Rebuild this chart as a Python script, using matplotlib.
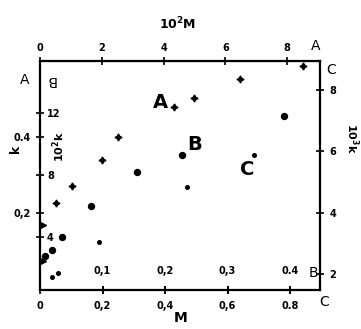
import matplotlib
matplotlib.use('Agg')
import matplotlib.pyplot as plt
import numpy as np

# Series A: 10^2 M (top axis) vs k (left, outer scale)
a_m100 = [0.52, 1.04, 2.01, 2.52, 4.34, 4.98, 6.47, 8.51]
a_k = [0.226, 0.270, 0.338, 0.400, 0.478, 0.501, 0.551, 0.584]

# Series B: M (bottom, inner scale) vs 10^2 k (left, inner scale)
b_m = [0.008, 0.019, 0.035, 0.082, 0.155, 0.227, 0.390]
b_k100 = [2.77, 3.16, 3.99, 5.98, 8.16, 9.31, 11.8]

# Series C: M (bottom, outer scale) vs 10^3 k (right axis)
c_m = [0.038, 0.058, 0.189, 0.470, 0.685]
c_k1000 = [1.90, 2.03, 3.04, 4.82, 5.86]

# little arrow marks on the left axis (k)
edge_k = [0.075, 0.169]

# tick labels
bot_ticks = [0, 0.2, 0.4, 0.6, 0.8]
bot_labels = ['0', '0,2', '0,4', '0,6', '0.8']
inner_ticks = [0.1, 0.2, 0.3, 0.4]
inner_labels = ['0,1', '0,2', '0,3', '0.4']
top_ticks = [0, 2, 4, 6, 8]
left_ticks = [0.2, 0.4]
left_labels = ['0,2', '0.4']
linner_ticks = [4, 8, 12]
right_ticks = [2, 4, 6, 8]

# scale conversions to the base axes (M, k)
top_f = (lambda m: m * 10.11, lambda t: t / 10.11)
inner_f = (lambda m: m / 2, lambda b: b * 2)
linner_f = (lambda k: (k + 0.024) / 0.0405, lambda v: v * 0.0405 - 0.024)
right_f = (lambda k: (k + 0.1186) / 0.0801, lambda r: r * 0.0801 - 0.1186)

W, H = 361, 329
fig = plt.figure(figsize=(W / 100, H / 100), dpi=100)
ax = fig.add_axes([40 / W, 1 - 290 / H, 280 / W, 229 / H])
ax.set_xlim(0, 0.896)
ax.set_ylim(0.0, 0.597)

for s in ax.spines.values():
    s.set_linewidth(1.6)

tick_kw = dict(direction='inout', length=6, width=1.2, labelsize=7)
ax.tick_params(axis='both', **tick_kw)
ax.set_xticks(bot_ticks)
ax.set_xticklabels(bot_labels, fontweight='bold')
ax.set_yticks(left_ticks)
ax.set_yticklabels(left_labels, fontweight='bold')
ax.tick_params(axis='x', pad=5)
ax.tick_params(axis='y', pad=4)

# top axis: 10^2 M
sec_top = ax.secondary_xaxis('top', functions=top_f)
sec_top.set_xticks(top_ticks)
sec_top.set_xticklabels([str(t) for t in top_ticks], fontweight='bold')
sec_top.tick_params(axis='x', pad=3, **tick_kw)

# inner bottom scale (0.1 .. 0.4)
sec_in = ax.secondary_xaxis(0.0, functions=inner_f)
sec_in.set_alignment('top')
sec_in.set_xticks(inner_ticks)
sec_in.set_xticklabels(inner_labels, fontweight='bold')
sec_in.tick_params(axis='x', pad=7, **tick_kw)
for s in sec_in.spines.values():
    s.set_visible(False)

# inner left scale: 10^2 k
sec_lin = ax.secondary_yaxis(0.0, functions=linner_f)
sec_lin.set_alignment('right')
sec_lin.set_yticks(linner_ticks)
sec_lin.set_yticklabels([str(t) for t in linner_ticks], fontweight='bold')
sec_lin.tick_params(axis='y', pad=2, **tick_kw)
for s in sec_lin.spines.values():
    s.set_visible(False)

# right axis: 10^3 k
sec_r = ax.secondary_yaxis('right', functions=right_f)
sec_r.set_yticks(right_ticks)
sec_r.set_yticklabels([str(t) for t in right_ticks], fontweight='bold')
sec_r.tick_params(axis='y', pad=4, **tick_kw)
for s in sec_r.spines.values():
    s.set_visible(False)

# data
ax.plot(top_f[1](np.array(a_m100)), a_k, linestyle='none', marker=(4, 1, 0),
        markersize=5, color='black', clip_on=False)
ax.plot(inner_f[1](np.array(b_m)), linner_f[1](np.array(b_k100)), linestyle='none',
        marker='o', markersize=4.3, color='black', clip_on=False)
ax.plot(c_m, right_f[1](np.array(c_k1000)), linestyle='none', marker='o',
        markersize=2.6, color='black', clip_on=False)
ax.plot([0.008] * len(edge_k), edge_k, linestyle='none', marker='>', markersize=4,
        color='black', clip_on=False)

# series letters
ax.text(0.384, 0.49, 'A', fontsize=14, fontweight='bold', ha='center', va='center')
ax.text(0.496, 0.38, 'B', fontsize=14, fontweight='bold', ha='center', va='center')
ax.text(0.662, 0.314, 'C', fontsize=14, fontweight='bold', ha='center', va='center')

# axis titles and scale letters
def ftext(x, y, s, **kw):
    fig.text(x / W, 1 - y / H, s, ha='center', va='center', **kw)

ftext(178, 24, r'10$^\mathbf{2}$M', fontsize=9, fontweight='bold')
ftext(181, 318, 'M', fontsize=10, fontweight='bold')
ftext(15, 149, 'k', fontsize=9, fontweight='bold', rotation=90)
ftext(59, 147, r'10$^\mathbf{2}$k', fontsize=8, fontweight='bold', rotation=90)
ftext(352, 138, r'10$^\mathbf{3}$k', fontsize=8, fontweight='bold', rotation=-90)
ftext(25, 80, 'A', fontsize=10)
ftext(51, 80, 'B', fontsize=10, rotation=180)
ftext(316, 46, 'A', fontsize=10)
ftext(331, 70, 'C', fontsize=10)
ftext(313, 273, 'B', fontsize=10)
ftext(324, 302, 'C', fontsize=10)

fig.savefig('out.png', dpi=100)
